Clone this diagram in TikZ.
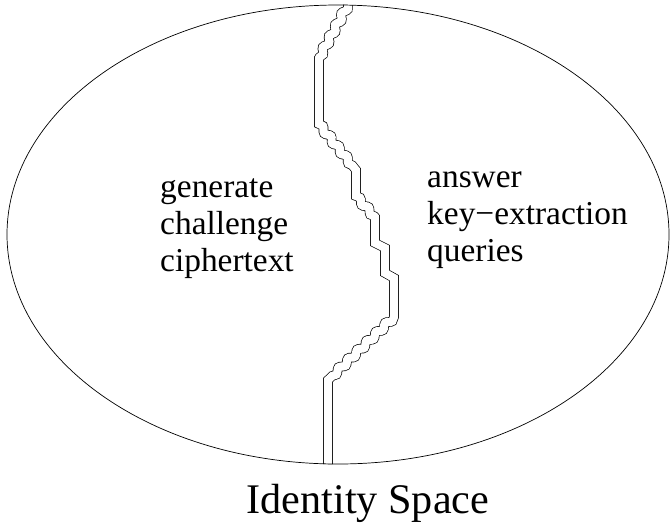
\documentclass[tikz,border=0pt]{standalone}
\usepackage{fontspec}
\setmainfont{Liberation Serif}
\usetikzlibrary{decorations.pathmorphing}

\tikzset{
  label text/.style={inner sep=0pt, anchor=base west, align=left,
    font=\fontsize{28.5}{31.5}\selectfont},
  wavy/.style={decoration={snake, segment length=11pt, amplitude=1.6pt}},
  border/.style={double, double distance=7pt, line width=0.6pt}
}

\begin{document}
\begin{tikzpicture}[x=0.03cm, y=-0.03cm]
        \useasboundingbox (0,0) rectangle (670,523);
        % define point
        \coordinate (P0)  at (348,5);
        \coordinate (P1)  at (319,58);
        \coordinate (P2)  at (319,124);
        \coordinate (P3)  at (356,170);
        \coordinate (P4)  at (356,196);
        \coordinate (P5)  at (375,217);
        \coordinate (P6)  at (375,243);
        \coordinate (P7)  at (385,248);
        \coordinate (P8)  at (385,273);
        \coordinate (P9)  at (394,278);
        \coordinate (P10) at (394,317);
        \coordinate (P11) at (328,380);
        \coordinate (P12) at (328,464);
        % dividing line
        \draw[border, wavy] (P0) decorate {-- (P1)} -- (P2) decorate {-- (P3)}
          -- (P4) decorate {-- (P5)} -- (P6) -- (P7) -- (P8) -- (P9) -- (P10)
          decorate {-- (P11)} -- (P12);
        % identity space
        \draw[line width=0.6pt] (338,234.5) ellipse [x radius=331, y radius=229.5];
        \node[label text] (gen) at (160,271) {generate\\challenge\\ciphertext};
        \node[label text] (ans) at (427,261) {answer\\key−extraction\\queries};
        \node[inner sep=0pt, anchor=base, font=\fontsize{36}{40}\selectfont]
          (title) at (368,513) {Identity Space};
    \end{tikzpicture}
\end{document}
